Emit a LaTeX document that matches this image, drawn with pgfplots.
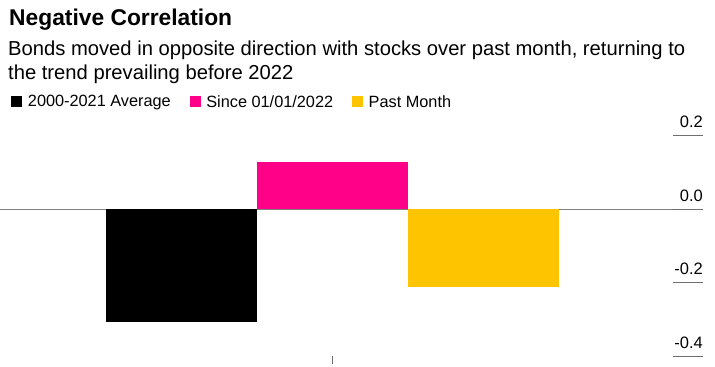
\documentclass[border=0pt]{standalone}
\usepackage{fontspec}
\setmainfont{Liberation Sans}
\usepackage{pgfplots}
\pgfplotsset{compat=1.18}
\definecolor{bpink}{HTML}{FF0088}
\definecolor{byellow}{HTML}{FFC400}
\definecolor{tickgray}{HTML}{6E6E6E}
\begin{document}
\begin{tikzpicture}
\useasboundingbox (0,0) rectangle (715bp,367bp);
\node[anchor=base west, inner sep=0pt, font=\fontsize{22.8bp}{26bp}\selectfont\bfseries] at (9bp,341bp) {Negative Correlation};
\node[anchor=base west, inner sep=0pt, font=\fontsize{20.2bp}{22bp}\selectfont] at (8bp,311.3bp) {Bonds moved in opposite direction with stocks over past month, returning to};
\node[anchor=base west, inner sep=0pt, font=\fontsize{20.2bp}{22bp}\selectfont] at (8bp,287.7bp) {the trend prevailing before 2022};
\begin{axis}[
  at={(0bp,10.5bp)}, anchor=south west,
  scale only axis, width=703bp, height=226.5bp,
  xmin=-1.198, xmax=3.449, ymin=-0.4, ymax=0.2163,
  axis line style={draw=none},
  xtick={1}, xticklabels={},
  ytick={-0.4,-0.2,0,0.2},
  ytick pos=right, xtick pos=bottom, tick align=inside,
  major tick length=30bp,
  ytick style={draw=tickgray, line width=1bp},
  xtick style={draw=tickgray, line width=1.2bp, /pgfplots/major tick length=7bp, yshift=-7bp},
  yticklabel style={anchor=base east, inner sep=0pt, yshift=8bp, font=\fontsize{16.5bp}{18bp}\selectfont},
  yticklabel={\pgfmathprintnumber[fixed,fixed zerofill,precision=1]{\tick}},
  /pgf/number format/assume math mode=true,
  extra y ticks={0}, extra y tick labels={},
  extra y tick style={grid=major, major grid style={draw=gray, line width=1bp}},
  legend style={at={(axis description cs:0.016,1.124)}, anchor=west, draw=none, fill=none, inner sep=0pt,
    legend columns=3, font=\fontsize{16.3bp}{18bp}\selectfont,
    /tikz/every odd column/.append style={column sep=3.5bp},
    /tikz/every even column/.append style={column sep=17bp}},
  legend image code/.code={\fill[#1] (0bp,-5bp) rectangle (11bp,6bp);},
]
\addplot[ybar, bar width=1, bar shift=0pt, fill=black, draw=none] coordinates {(0,-0.305)};
\addplot[ybar, bar width=1, bar shift=0pt, fill=bpink, draw=none] coordinates {(1,0.130)};
\addplot[ybar, bar width=1, bar shift=0pt, fill=byellow, draw=none] coordinates {(2,-0.210)};
\legend{2000-2021 Average, Since 01/01/2022, Past Month}
\end{axis}
\end{tikzpicture}
\end{document}
